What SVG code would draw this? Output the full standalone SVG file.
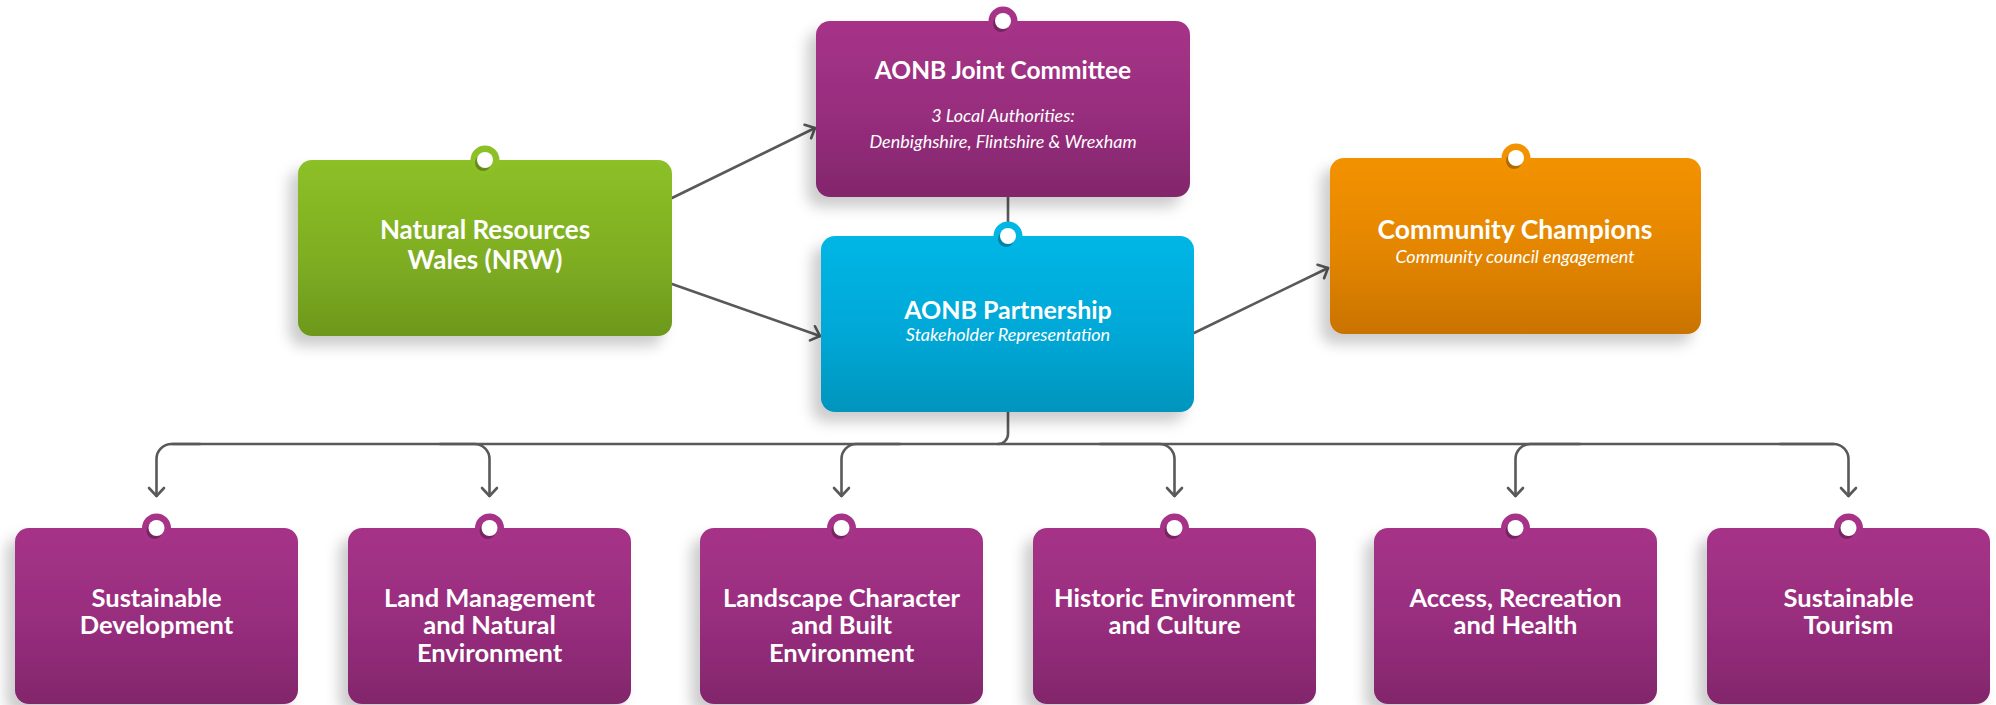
<svg xmlns="http://www.w3.org/2000/svg" width="1996" height="705" viewBox="0 0 1996 705">
  <style>
    .t { font-family: Lato, "Open Sans", "Liberation Sans", sans-serif; font-weight: 700; fill: #ffffff; text-anchor: middle; }
    .s { font-family: Lato, "Open Sans", "Liberation Sans", sans-serif; font-style: italic; fill: #ffffff; text-anchor: middle; font-size: 18px; }
    .b { font-size: 25.5px; }
    .conn { fill: none; stroke: #595959; stroke-width: 2.6; stroke-linecap: round; stroke-linejoin: round; }
    .dot { fill: #ffffff; }
    .dsh { fill: #000000; fill-opacity: 0.28; }
  </style>
  <defs>
    <linearGradient id="gP" x1="0" y1="0" x2="0" y2="1">
      <stop offset="0" stop-color="#a63388"/>
      <stop offset="0.55" stop-color="#972d7d"/>
      <stop offset="1" stop-color="#82276b"/>
    </linearGradient>
    <linearGradient id="gC" x1="0" y1="0" x2="0" y2="1">
      <stop offset="0" stop-color="#00b6e5"/>
      <stop offset="0.55" stop-color="#00a8d7"/>
      <stop offset="1" stop-color="#0095bd"/>
    </linearGradient>
    <linearGradient id="gG" x1="0" y1="0" x2="0" y2="1">
      <stop offset="0" stop-color="#8cc026"/>
      <stop offset="0.55" stop-color="#7fae22"/>
      <stop offset="1" stop-color="#6d981d"/>
    </linearGradient>
    <linearGradient id="gO" x1="0" y1="0" x2="0" y2="1">
      <stop offset="0" stop-color="#f39200"/>
      <stop offset="0.55" stop-color="#e38500"/>
      <stop offset="1" stop-color="#c97300"/>
    </linearGradient>
    <filter id="sh" x="-20%" y="-20%" width="140%" height="150%">
      <feDropShadow dx="-9" dy="10" stdDeviation="7" flood-color="#000000" flood-opacity="0.2"/>
    </filter>
    <marker id="ah" markerUnits="userSpaceOnUse" markerWidth="24" markerHeight="24" viewBox="-12 -12 24 24" refX="0" refY="0" orient="auto">
      <path d="M-8,-7.5 L0,0 L-8,7.5" fill="none" stroke="#595959" stroke-width="2.6" stroke-linecap="round" stroke-linejoin="round"/>
    </marker>
  </defs>

  <g id="connectors">
    <path class="conn" d="M672,198 L815,128" marker-end="url(#ah)"/>
    <path class="conn" d="M672,284 L820,336" marker-end="url(#ah)"/>
    <path class="conn" d="M1194,333 L1328,268" marker-end="url(#ah)"/>
    <path class="conn" d="M1008,197 V224"/>
    <path class="conn" d="M1008,412 V434 A10,10 0 0 1 998,444"/>
    <path class="conn" d="M172,444 H1833.5"/>
    <path class="conn" d="M200,444 H171.5 A15,15 0 0 0 156.5,459 V496" marker-end="url(#ah)"/>
    <path class="conn" d="M440,444 H474.5 A15,15 0 0 1 489.5,459 V496" marker-end="url(#ah)"/>
    <path class="conn" d="M900,444 H856.5 A15,15 0 0 0 841.5,459 V496" marker-end="url(#ah)"/>
    <path class="conn" d="M1100,444 H1159.5 A15,15 0 0 1 1174.5,459 V496" marker-end="url(#ah)"/>
    <path class="conn" d="M1580,444 H1530.5 A15,15 0 0 0 1515.5,459 V496" marker-end="url(#ah)"/>
    <path class="conn" d="M1780,444 H1833.5 A15,15 0 0 1 1848.5,459 V496" marker-end="url(#ah)"/>
  </g>

  <g id="joint-committee">
    <rect x="816" y="21" width="374" height="176" rx="14" fill="url(#gP)" filter="url(#sh)"/>
    <circle cx="1003" cy="21" r="14.5" fill="#a63388"/>
    <circle class="dsh" cx="1001" cy="24" r="8"/>
    <circle class="dot" cx="1003" cy="21" r="8"/>
    <text class="t" x="1003" y="79" font-size="24.5">AONB Joint Committee</text>
    <text class="s" x="1003" y="122">3 Local Authorities:</text>
    <text class="s" x="1003" y="148">Denbighshire, Flintshire &amp; Wrexham</text>
  </g>

  <g id="nrw">
    <rect x="298" y="160" width="374" height="176" rx="14" fill="url(#gG)" filter="url(#sh)"/>
    <circle cx="485" cy="160" r="14.5" fill="#8cc026"/>
    <circle class="dsh" cx="483" cy="163" r="8"/>
    <circle class="dot" cx="485" cy="160" r="8"/>
    <text class="t" x="485" y="239" font-size="26">Natural Resources</text>
    <text class="t" x="485" y="269" font-size="26">Wales (NRW)</text>
  </g>

  <g id="partnership">
    <rect x="821" y="236" width="373" height="176" rx="14" fill="url(#gC)" filter="url(#sh)"/>
    <circle cx="1008" cy="236" r="14.5" fill="#00b6e5"/>
    <circle class="dsh" cx="1006" cy="239" r="8"/>
    <circle class="dot" cx="1008" cy="236" r="8"/>
    <text class="t" x="1008" y="319" font-size="25">AONB Partnership</text>
    <text class="s" x="1008" y="341">Stakeholder Representation</text>
  </g>

  <g id="community-champions">
    <rect x="1330" y="158" width="371" height="176" rx="14" fill="url(#gO)" filter="url(#sh)"/>
    <circle cx="1516" cy="158" r="14.5" fill="#f39200"/>
    <circle class="dsh" cx="1514" cy="161" r="8"/>
    <circle class="dot" cx="1516" cy="158" r="8"/>
    <text class="t" x="1515" y="239" font-size="26.5">Community Champions</text>
    <text class="s" x="1515" y="263">Community council engagement</text>
  </g>

  <g id="sustainable-development">
    <rect x="15" y="528" width="283" height="176" rx="14" fill="url(#gP)" filter="url(#sh)"/>
    <circle cx="156.5" cy="528" r="14.5" fill="#a63388"/>
    <circle class="dsh" cx="154.5" cy="531" r="8"/>
    <circle class="dot" cx="156.5" cy="528" r="8"/>
    <text class="t b" x="156.5" y="607">Sustainable</text>
    <text class="t b" x="156.5" y="634">Development</text>
  </g>

  <g id="land-management">
    <rect x="348" y="528" width="283" height="176" rx="14" fill="url(#gP)" filter="url(#sh)"/>
    <circle cx="489.5" cy="528" r="14.5" fill="#a63388"/>
    <circle class="dsh" cx="487.5" cy="531" r="8"/>
    <circle class="dot" cx="489.5" cy="528" r="8"/>
    <text class="t b" x="489.5" y="607">Land Management</text>
    <text class="t b" x="489.5" y="634">and Natural</text>
    <text class="t b" x="489.5" y="662">Environment</text>
  </g>

  <g id="landscape-character">
    <rect x="700" y="528" width="283" height="176" rx="14" fill="url(#gP)" filter="url(#sh)"/>
    <circle cx="841.5" cy="528" r="14.5" fill="#a63388"/>
    <circle class="dsh" cx="839.5" cy="531" r="8"/>
    <circle class="dot" cx="841.5" cy="528" r="8"/>
    <text class="t b" x="841.5" y="607">Landscape Character</text>
    <text class="t b" x="841.5" y="634">and Built</text>
    <text class="t b" x="841.5" y="662">Environment</text>
  </g>

  <g id="historic-environment">
    <rect x="1033" y="528" width="283" height="176" rx="14" fill="url(#gP)" filter="url(#sh)"/>
    <circle cx="1174.5" cy="528" r="14.5" fill="#a63388"/>
    <circle class="dsh" cx="1172.5" cy="531" r="8"/>
    <circle class="dot" cx="1174.5" cy="528" r="8"/>
    <text class="t b" x="1174.5" y="607">Historic Environment</text>
    <text class="t b" x="1174.5" y="634">and Culture</text>
  </g>

  <g id="access-recreation">
    <rect x="1374" y="528" width="283" height="176" rx="14" fill="url(#gP)" filter="url(#sh)"/>
    <circle cx="1515.5" cy="528" r="14.5" fill="#a63388"/>
    <circle class="dsh" cx="1513.5" cy="531" r="8"/>
    <circle class="dot" cx="1515.5" cy="528" r="8"/>
    <text class="t b" x="1515.5" y="607">Access, Recreation</text>
    <text class="t b" x="1515.5" y="634">and Health</text>
  </g>

  <g id="sustainable-tourism">
    <rect x="1707" y="528" width="283" height="176" rx="14" fill="url(#gP)" filter="url(#sh)"/>
    <circle cx="1848.5" cy="528" r="14.5" fill="#a63388"/>
    <circle class="dsh" cx="1846.5" cy="531" r="8"/>
    <circle class="dot" cx="1848.5" cy="528" r="8"/>
    <text class="t b" x="1848.5" y="607">Sustainable</text>
    <text class="t b" x="1848.5" y="634">Tourism</text>
  </g>
</svg>
